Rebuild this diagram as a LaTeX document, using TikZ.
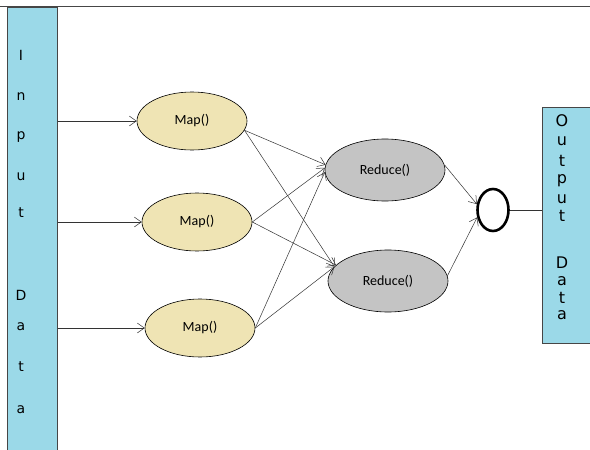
\documentclass[tikz,border=0pt]{standalone}
\usepackage{fontspec}
\setmainfont{Carlito}
\newfontfamily\boxfont{DejaVu Sans}
\usetikzlibrary{shapes.geometric,arrows.meta}
\definecolor{boxblue}{RGB}{155,217,232}
\definecolor{mapfill}{RGB}{239,228,180}
\definecolor{redfill}{RGB}{196,196,196}
\definecolor{edgegray}{RGB}{70,70,70}
\tikzset{
  databox/.style={draw=edgegray,fill=boxblue,line width=0.7pt},
  letter/.style={font=\boxfont\fontsize{14}{14}\selectfont,inner sep=0pt},
  bigletter/.style={font=\boxfont\fontsize{16}{16}\selectfont,inner sep=0pt},
  mapnode/.style={ellipse,draw=black,fill=mapfill,line width=0.6pt,inner sep=0pt,
    minimum width=110pt,minimum height=58pt,font=\fontsize{14}{14}\selectfont},
  rednode/.style={ellipse,draw=black,fill=redfill,line width=0.6pt,inner sep=0pt,
    minimum width=120pt,minimum height=62pt,font=\fontsize{14}{14}\selectfont},
  joinnode/.style={ellipse,draw=black,line width=2.6pt,inner sep=0pt,
    minimum width=31pt,minimum height=42pt},
  flow/.style={draw=black!80,line width=0.5pt,-{Straight Barb[length=7pt,width=10pt]}},
  plain/.style={draw=black!80,line width=0.6pt}
}
\begin{document}
\begin{tikzpicture}[x=1pt,y=-1pt]
\useasboundingbox (0,0) rectangle (590,450);
\fill[white] (0,0) rectangle (590,450);
\draw[edgegray,line width=0.8pt] (0,6) -- (590,6);
% input box
\node[databox,minimum width=50pt,minimum height=448pt,inner sep=0pt,anchor=north west] (inbox) at (7,7) {};
\foreach \ch/\yy [count=\i] in {I/55,n/97,p/137,u/177,t/213,D/295,a/327,t/367,a/410}
  \node[letter] (in\i) at (21,\yy) {\ch};
% output box
\node[databox,minimum width=52pt,minimum height=236pt,inner sep=0pt,anchor=north west] (outbox) at (542,107) {};
\foreach \ch/\yy [count=\i] in {O/121,u/141,t/161,p/181,u/199,t/216,D/263,a/281,t/298,a/315}
  \node[bigletter] (out\i) at (562,\yy) {\ch};
% map nodes
\node[mapnode] (m1) at (192,121) {Map()};
\node[mapnode] (m2) at (197,222) {Map()};
\node[mapnode] (m3) at (200,328) {Map()};
% reduce nodes
\node[rednode] (r1) at (385,170) {Reduce()};
\node[rednode] (r2) at (388,281) {Reduce()};
% join circle
\node[joinnode] (j) at (493,210) {};
% input arrows
\draw[flow] (m1.west -| inbox.east) -- (m1.west);
\draw[flow] (m2.west -| inbox.east) -- (m2.west);
\draw[flow] (m3.west -| inbox.east) -- (m3.west);
% map to reduce
\draw[flow] (m1.-10) -- (r1.175);
\draw[flow] (m1.-10) -- (r2.165);
\draw[flow] (m2.east) -- (r1.178);
\draw[flow] (m2.east) -- (r2.163);
\draw[flow] (m3.east) -- (r1.182);
\draw[flow] (m3.east) -- (r2.165);
% reduce to join
\draw[flow] (r1.5) -- (j.160);
\draw[flow] (r2.5) -- (j.205);
% join to output
\draw[plain] (j.east) -- (j.east -| outbox.west);
\end{tikzpicture}
\end{document}
